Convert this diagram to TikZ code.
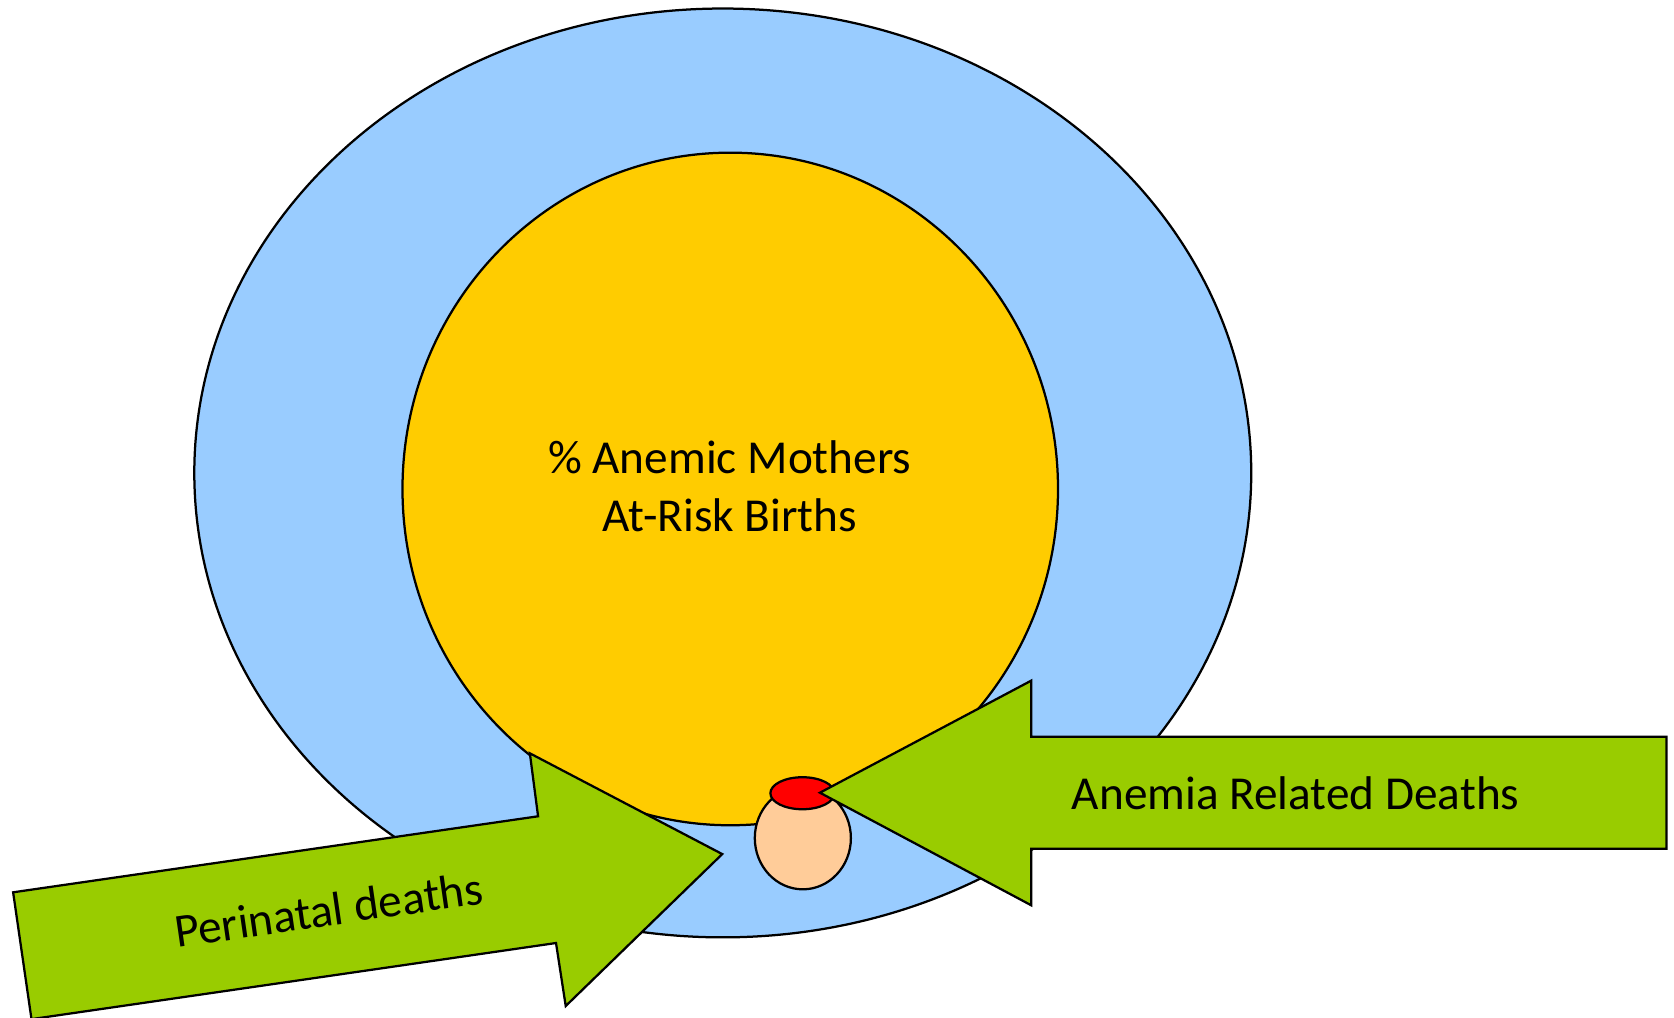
\documentclass[tikz,border=0pt]{standalone}
\usepackage{fontspec}
\setmainfont{Carlito}
\usetikzlibrary{shapes.geometric}
\definecolor{ringblue}{HTML}{99CCFF}
\definecolor{coreyellow}{HTML}{FFCC00}
\definecolor{arrowgreen}{HTML}{99CC00}
\definecolor{peach}{HTML}{FFCC99}
\definecolor{dotred}{HTML}{FF0000}
\tikzset{
  outline/.style={draw=black, line width=0.6pt, line join=miter},
  oval/.style={outline, ellipse, inner sep=0pt},
  label text/.style={font=\fontsize{12.6}{15.4}\selectfont, text=black, inner sep=0pt, align=center}
}
\begin{document}
\begin{tikzpicture}
\useasboundingbox (0,0) rectangle (15.68,-9.53);
\clip (0,0) rectangle (15.68,-9.53);
% outer ring
\node[oval, fill=ringblue, minimum width=9.90cm, minimum height=8.70cm] (ring) at (6.77,-4.43) {};
% inner circle
\node[oval, fill=coreyellow, minimum width=6.14cm, minimum height=6.30cm] (core) at (6.84,-4.58) {};
\node[label text, anchor=base] (coretext) at (6.835,-4.98) {\% Anemic Mothers\\At-Risk Births};
% small ellipses
\node[oval, fill=peach, minimum width=0.90cm, minimum height=0.96cm] (peachov) at (7.52,-7.85) {};
\node[oval, fill=dotred, minimum width=0.60cm, minimum height=0.30cm] (redov) at (7.516,-7.43) {};
% left arrow (Perinatal deaths)
\draw[outline, fill=arrowgreen]
  (0.123,-8.358) coordinate (pA) -- (5.04,-7.646) coordinate (pB)
  -- (4.963,-7.056) coordinate (pC) -- (6.765,-8.00) coordinate (pTip)
  -- (5.299,-9.423) coordinate (pE) -- (5.208,-8.833) coordinate (pF)
  -- (0.295,-9.546) coordinate (pG) -- cycle;
\node[label text, anchor=base, rotate=8.24] (perinatal) at (3.10,-8.67) {Perinatal deaths};
% right arrow (Anemia Related Deaths)
\draw[outline, fill=arrowgreen]
  (7.68,-7.425) coordinate (aTip) -- (9.66,-6.375) coordinate (aH1)
  -- (9.66,-6.90) coordinate (aS1) -- (15.61,-6.90) coordinate (aS2)
  -- (15.61,-7.95) coordinate (aS3) -- (9.66,-7.95) coordinate (aS4)
  -- (9.66,-8.48) coordinate (aH2) -- cycle;
\node[label text, anchor=base] (anemia) at (12.135,-7.58) {Anemia Related Deaths};
\end{tikzpicture}
\end{document}
